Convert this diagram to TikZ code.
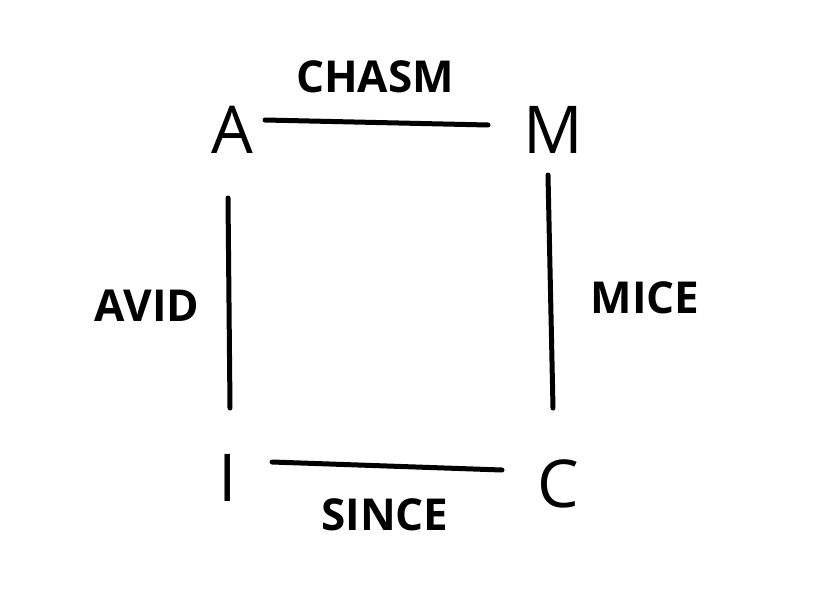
\documentclass[tikz,border=0pt]{standalone}
\usepackage{fontspec}
\setmainfont{Open Sans}
\begin{document}
\begin{tikzpicture}[x=1pt,y=-1pt,
  big/.style={font=\fontsize{66}{66}\selectfont},
  lab/.style={font=\bfseries\fontsize{44}{44}\selectfont},
  edge/.style={line width=5pt,line cap=round}]
\useasboundingbox (0,0) rectangle (815,606);
\node[big] (A) at (232,130) {A};
\node[big] (M) at (553,130) {M};
\node[big] (I) at (228,478) {I};
\node[big] (C) at (558,484) {C};
\coordinate (a1) at (265,120); \coordinate (m1) at (488,125);
\coordinate (a2) at (228,198); \coordinate (i1) at (230,408);
\coordinate (m2) at (548,175); \coordinate (c1) at (553,408);
\coordinate (i2) at (272,462); \coordinate (c2) at (502,470);
\draw[edge] (a1) -- (m1);
\draw[edge] (a2) -- (i1);
\draw[edge] (m2) -- (c1);
\draw[edge] (i2) -- (c2);
\node[lab] (chasm) at (375,77) {CHASM};
\node[lab] (avid) at (147,306) {AVID};
\node[lab] (mice) at (645,298) {MICE};
\node[lab] (since) at (385,515) {SINCE};
\end{tikzpicture}
\end{document}
